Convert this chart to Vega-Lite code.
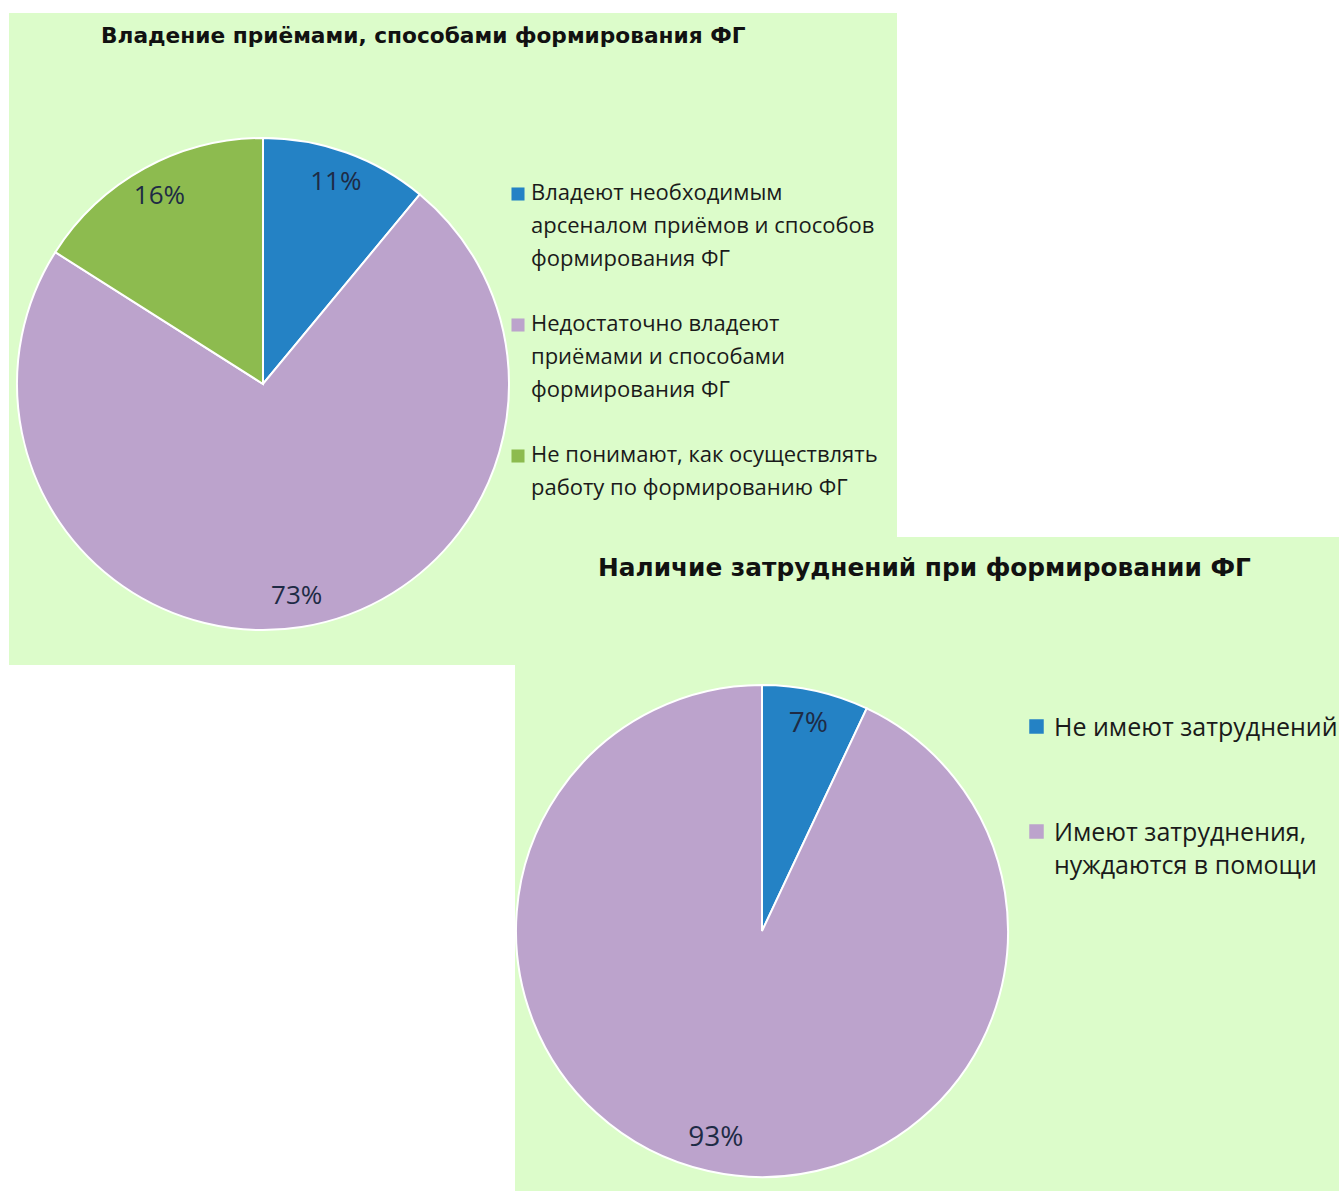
{
  "$schema": "https://vega.github.io/schema/vega-lite/v6.json",
  "background": "white",
  "padding": {"left": 9, "top": 13, "right": 0, "bottom": 0},
  "autosize": {"type": "pad"},
  "columns": 2,
  "align": "each",
  "bounds": "flush",
  "spacing": 0,
  "resolve": {"scale": {"color": "independent", "theta": "independent"}, "legend": {"color": "independent"}},
  "config": {"view": {"stroke": null}, "style": {"guide-label": {"lineHeight": 33, "dy": -11}}},
  "concat": [
    {
      "width": 506,
      "height": 524,
      "title": {"text": "Владение приёмами, способами формирования  ФГ", "anchor": "start", "frame": "group", "offset": -35, "dx": 92, "font": "DejaVu Sans", "fontSize": 21.7, "fontWeight": "bold", "color": "#111111"},
      "data": {"values": [
        {"cat": "Владеют необходимым|арсеналом приёмов и способов|формирования ФГ", "v": 11, "o": 1, "lab": "11%"},
        {"cat": "Недостаточно владеют|приёмами и способами|формирования ФГ", "v": 73, "o": 2, "lab": "73%"},
        {"cat": "Не понимают, как осуществлять|работу по формированию ФГ", "v": 16, "o": 3, "lab": "16%"}
      ]},
      "layer": [
        {"data": {"values": [{}]}, "mark": {"type": "rect", "color": "#DCFCCA"}, "encoding": {"x": {"value": 0}, "x2": {"value": 888}, "y": {"value": 0}, "y2": {"value": 652}}},
        {
          "mark": {"type": "arc", "outerRadius": 246, "stroke": "white", "strokeWidth": 2},
          "encoding": {
            "theta": {"field": "v", "type": "quantitative", "stack": true},
            "order": {"field": "o"},
            "color": {
              "field": "cat", "type": "nominal",
              "scale": {"domain": ["Владеют необходимым|арсеналом приёмов и способов|формирования ФГ", "Недостаточно владеют|приёмами и способами|формирования ФГ", "Не понимают, как осуществлять|работу по формированию ФГ"], "range": ["#2482C5", "#BCA3CC", "#8DBB4F"]},
              "legend": {"title": null, "orient": "none", "legendX": 498, "legendY": 170, "symbolType": "square", "symbolSize": 170, "symbolStrokeWidth": 0, "labelFontSize": 22, "labelFont": "Open Sans", "labelColor": "#1a1a1a", "labelLimit": 600, "rowPadding": 43, "labelOffset": 2, "padding": 0, "labelBaseline": "top", "labelExpr": "split(datum.label, '|')"}
            },
            "x": {"value": 254},
            "y": {"value": 371}
          }
        },
        {
          "mark": {"type": "text", "radius": 215, "fontSize": 26, "font": "Open Sans", "color": "#1E2B45"},
          "encoding": {
            "theta": {"field": "v", "type": "quantitative", "stack": true},
            "order": {"field": "o"},
            "text": {"field": "lab"},
            "x": {"value": 254},
            "y": {"value": 371}
          }
        }
      ]
    },
    {"width": 1, "height": 1, "data": {"values": []}, "mark": "point", "encoding": {}},
    {"width": 1, "height": 1, "data": {"values": []}, "mark": "point", "encoding": {}},
    {
      "width": 824,
      "height": 654,
      "title": {"text": "Наличие затруднений при формировании ФГ", "anchor": "start", "frame": "group", "offset": -44, "dx": 83, "font": "DejaVu Sans", "fontSize": 24.8, "fontWeight": "bold", "color": "#111111"},
      "data": {"values": [
        {"cat": "Не имеют затруднений", "v": 7, "o": 1, "lab": "7%"},
        {"cat": "Имеют затруднения,|нуждаются в помощи", "v": 93, "o": 2, "lab": "93%"}
      ]},
      "layer": [
        {"data": {"values": [{}]}, "mark": {"type": "rect", "color": "#DCFCCA"}, "encoding": {}},
        {
          "mark": {"type": "arc", "outerRadius": 246, "stroke": "white", "strokeWidth": 2},
          "encoding": {
            "theta": {"field": "v", "type": "quantitative", "stack": true},
            "order": {"field": "o"},
            "color": {
              "field": "cat", "type": "nominal",
              "scale": {"domain": ["Не имеют затруднений", "Имеют затруднения,|нуждаются в помощи"], "range": ["#2482C5", "#BCA3CC"]},
              "legend": {"title": null, "orient": "none", "legendX": 509, "legendY": 177, "symbolType": "square", "symbolSize": 210, "symbolStrokeWidth": 0, "labelFontSize": 25, "labelFont": "Open Sans", "labelColor": "#1a1a1a", "labelLimit": 600, "rowPadding": 78, "labelOffset": 5, "padding": 0, "labelBaseline": "top", "labelExpr": "split(datum.label, '|')"}
            },
            "x": {"value": 247},
            "y": {"value": 394}
          }
        },
        {
          "mark": {"type": "text", "radius": 212, "fontSize": 28, "font": "Open Sans", "color": "#1E2B45"},
          "encoding": {
            "theta": {"field": "v", "type": "quantitative", "stack": true},
            "order": {"field": "o"},
            "text": {"field": "lab"},
            "x": {"value": 247},
            "y": {"value": 394}
          }
        }
      ]
    }
  ]
}
